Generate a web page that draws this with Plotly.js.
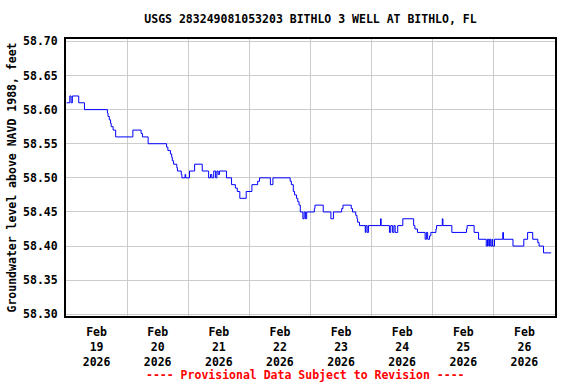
<!DOCTYPE html>
<html>
<head>
<meta charset="utf-8">
<script src="https://cdn.plot.ly/plotly-3.0.1.min.js"></script>
<style>html,body{margin:0;padding:0;background:#fff;}#chart{width:576px;height:384px;}</style>
</head>
<body>
<div id="chart"></div>
<script>
// Hours since 2026-02-19 00:00 and groundwater level (ft above NAVD 1988)
const hours = [0.25,1.5,2,2.5,5,7.25,16.25,16.5,17,17.5,17.75,18.5,19.5,26.25,29.5,30,32.25,
  39.5,40,41,41.5,41.75,42.25,43.5,43.75,45.25,45.5,46.75,47,48.5,50.5,53.5,
  56,56.75,57.25,58,58.75,59.25,59.75,60.25,63,65,66.5,67.25,68.25,70.75,73,75.25,76,80.25,81.25,
  88,88.5,89.25,89.75,90.5,91,91.5,92,93,93.5,94,94.5,97.5,97.75,101,104,105,108.25,108.75,
  112,112.5,113.75,114.25,114.5,115.25,117.5,117.75,118.25,118.75,123.5,123.75,127,127.5,128.25,128.75,129.25,130.25,
  132.25,136.5,137,138,141,141.5,142,142.75,143.25,145.25,145.5,147.75,148,151.5,157.25,157.5,160.25,162,
  165,165.5,166,166.25,166.75,167.25,167.5,168.25,171.5,171.75,175.5,179.75,181.25,183.25,185.25,185.75,187.5,190.5];
const levels = [58.61,58.62,58.61,58.62,58.61,58.60,58.595,58.59,58.585,58.58,58.575,58.57,58.56,58.57,58.565,58.56,58.55,
  58.545,58.54,58.535,58.53,58.525,58.52,58.515,58.51,58.505,58.50,58.505,58.50,58.51,58.52,58.51,
  58.50,58.505,58.50,58.51,58.50,58.51,58.505,58.51,58.50,58.49,58.485,58.48,58.47,58.48,58.49,58.495,58.50,58.49,58.50,
  58.495,58.49,58.48,58.475,58.47,58.465,58.46,58.45,58.44,58.45,58.44,58.45,58.455,58.46,58.45,58.44,58.45,58.455,58.46,
  58.455,58.45,58.445,58.44,58.435,58.43,58.42,58.43,58.42,58.43,58.44,58.43,58.42,58.43,58.42,58.43,58.42,58.43,
  58.44,58.43,58.425,58.42,58.41,58.42,58.41,58.415,58.42,58.425,58.43,58.44,58.43,58.42,58.425,58.43,58.42,58.41,
  58.40,58.41,58.40,58.41,58.40,58.41,58.40,58.41,58.42,58.41,58.40,58.41,58.42,58.41,58.405,58.40,58.39,58.39];
const dayLabels = ['19','20','21','22','23','24','25','26'];
const monthLabel = 'Feb';
const yearLabel = '2026';
const yTicks = [58.30,58.35,58.40,58.45,58.50,58.55,58.60,58.65,58.70];

const startMs = Date.UTC(2026,1,19);
function toDate(h){ return new Date(startMs + h*3600000).toISOString().replace('T',' ').slice(0,19); }
const xs = hours.map(toDate);
const tickVals = dayLabels.map((d,i)=>toDate(i*24+12));
const gridVals = dayLabels.map((d,i)=>toDate(i*24)).concat([toDate(192)]);
const tickText = dayLabels.map(d=>monthLabel+'<br>'+d+'<br>'+yearLabel);

const fnt = {family:'DejaVu Sans Mono, monospace', size:11.5, color:'#000', weight:'bold'};
const xr = [toDate(0), toDate(192)];

const data = [{
  x: xs, y: levels, type:'scatter', mode:'lines',
  line:{color:'#0000ff', width:1, shape:'hv'}, hoverinfo:'skip'
}];
const layout = {
  width:576, height:384,
  margin:{l:66, r:21, t:39, b:68},
  paper_bgcolor:'#fff', plot_bgcolor:'#fff',
  showlegend:false,
  font: fnt,
  title:{text:'USGS 283249081053203 BITHLO 3 WELL AT BITHLO, FL', font:fnt, x:0.5, xref:'paper', y:0.95, yanchor:'middle'},
  xaxis:{type:'date', range:xr, tickmode:'array', tickvals:tickVals, ticktext:tickText, tickfont:fnt,
    ticks:'outside', ticklen:4, tickcolor:'rgba(0,0,0,0)', showgrid:false,
    minor:{tickmode:'array', tickvals:gridVals, showgrid:true, gridcolor:'#cccccc', gridwidth:1, ticks:''},
    showline:true, mirror:true, linecolor:'#000', linewidth:2, zeroline:false},
  yaxis:{range:[58.2975,58.7035], tickmode:'array', tickvals:yTicks, ticktext:yTicks.map(v=>v.toFixed(2)),
    showgrid:true, gridcolor:'#cccccc', gridwidth:1, showline:true, mirror:true, linecolor:'#000', linewidth:2,
    ticks:'outside', ticklen:4, tickcolor:'rgba(0,0,0,0)', tickfont:fnt, zeroline:false,
    title:{text:'Groundwater level above NAVD 1988, feet', font:fnt, standoff:4}},
  annotations:[{text:'---- Provisional Data Subject to Revision ----', xref:'paper', yref:'paper', x:0.49, y:-0.213,
    xanchor:'center', yanchor:'middle', showarrow:false, font:{family:fnt.family, size:11.5, color:'#ff0000', weight:'bold'}}]
};
Plotly.newPlot('chart', data, layout, {staticPlot:true, displayModeBar:false});
</script>
</body>
</html>
